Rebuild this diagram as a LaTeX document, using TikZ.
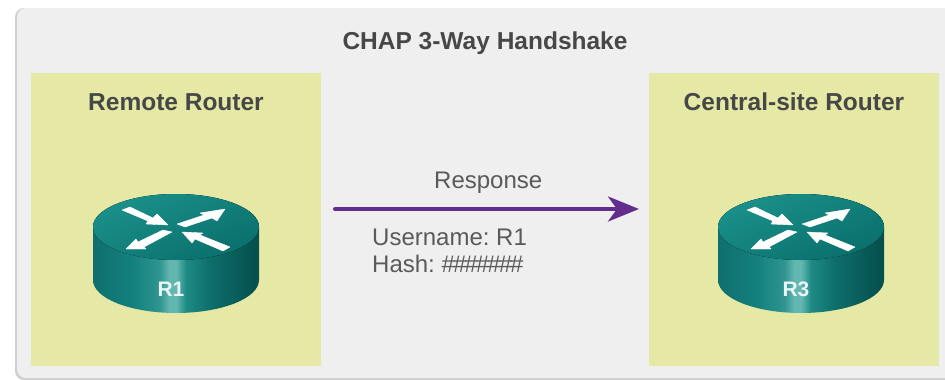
\documentclass[tikz,border=0pt]{standalone}
\usepackage{fontspec}
\setmainfont{Liberation Sans}
\usetikzlibrary{arrows.meta,calc}
\definecolor{panelgray}{HTML}{EFEFEF}
\definecolor{panelshadow}{HTML}{CFCFCF}
\definecolor{boxgreen}{HTML}{E5E9A5}
\definecolor{txtdark}{HTML}{474747}
\definecolor{txtmid}{HTML}{5A5A5A}
\definecolor{arrowpurple}{HTML}{632D8E}
\definecolor{teal1}{HTML}{0F6F6E}
\definecolor{teal2}{HTML}{14817E}
\definecolor{teal3}{HTML}{2F9590}
\definecolor{teal4}{HTML}{63B7B1}
\definecolor{teal5}{HTML}{1F8A85}
\definecolor{teal6}{HTML}{0E6F6B}
\definecolor{teal7}{HTML}{06504E}
\definecolor{topa}{HTML}{1B908A}
\definecolor{topb}{HTML}{0A6F6B}
\pgfdeclarehorizontalshading{routerside}{100bp}{
  color(0bp)=(teal1); color(25bp)=(teal1);
  color(37bp)=(teal2); color(45bp)=(teal3);
  color(48bp)=(teal4); color(50bp)=(teal4);
  color(53bp)=(teal5); color(60bp)=(teal6); color(74bp)=(teal7); color(100bp)=(teal7)}
\tikzset{
  x=1pt,y=-1pt,
  panelbox/.style={fill=panelgray,draw=none,rounded corners=9pt},
  greenbox/.style={fill=boxgreen,draw=none,inner sep=0pt,minimum width=290pt,minimum height=293pt,anchor=north west},
  boxtitle/.style={font=\fontsize{24.5}{26}\selectfont\bfseries,text=txtdark,inner sep=0pt,anchor=base},
  plaintxt/.style={font=\fontsize{24}{26}\selectfont,text=txtmid,inner sep=0pt,anchor=base west},
  routerlabel/.style={font=\fontsize{21}{24}\selectfont\bfseries,text=white!92!teal,inner sep=0pt,anchor=base},
  flowarrow/.style={draw=arrowpurple,line width=4pt,line cap=round,
    -{Stealth[length=31pt,width=25pt,inset=9pt]}},
  routerarrow/.style={fill=white,draw=white,line width=0.4pt,line join=round},
}
\newcommand{\hs}{\#\kern-1.9pt}
\newcommand{\routerdraw}[2]{%
  \begin{scope}[shift={(#1,0)}]
    \shade[shading=routerside] (-83,227) -- (-83,280) arc[start angle=180,end angle=0,x radius=83,y radius=33] -- (83,227) arc[start angle=0,end angle=-180,x radius=83,y radius=33] -- cycle;
    \fill[top color=topa,bottom color=topb,shading angle=25] (0,227) ellipse[x radius=83,y radius=33];
    \path[routerarrow] (-54,210) -- (-46,207) -- (-23,218) -- (-19,214) -- (-8,225) -- (-30,224) -- (-28,221) -- cycle;
    \path[routerarrow] (1,224) -- (28,215) -- (24,213) -- (49,209) -- (41,221) -- (36,218) -- (9,227) -- cycle;
    \path[routerarrow] (-50,249) -- (-40,239) -- (-38,242) -- (-13,230) -- (-4,232) -- (-32,247) -- (-30,249) -- cycle;
    \path[routerarrow] (6,232) -- (27,233) -- (24,235) -- (54,247) -- (47,251) -- (19,239) -- (16,243) -- cycle;
    \node[routerlabel] at (-5,296) {#2};
  \end{scope}}
\begin{document}
\begin{tikzpicture}
\frenchspacing
\useasboundingbox (0,0) rectangle (945,380);
\fill[white] (0,0) rectangle (945,380);
\fill[panelshadow,rounded corners=9pt] (15,8) rectangle (960,380);
\path[panelbox] (17,8) rectangle (960,378);
\node[boxtitle] (title) at (485,49) {CHAP 3-Way Handshake};
\node[greenbox] (remote) at (31,73) {};
\node[greenbox] (central) at (649,73) {};
\node[boxtitle] (remotetitle) at (176,110) {Remote Router};
\node[boxtitle] (centraltitle) at (794,110) {Central-site Router};
\routerdraw{176}{R1}
\routerdraw{801}{R3}
\node[plaintxt] (resp) at (434,188) {Response};
\node[plaintxt] (user) at (372,245) {Username: R1};
\node[plaintxt] (hash) at (372,272) {Hash: \hs\hs\hs\hs\hs\hs\#};
\coordinate (from) at (335,209);
\coordinate (to) at (639,209);
\draw[flowarrow] (from) -- (to);
\end{tikzpicture}
\end{document}
